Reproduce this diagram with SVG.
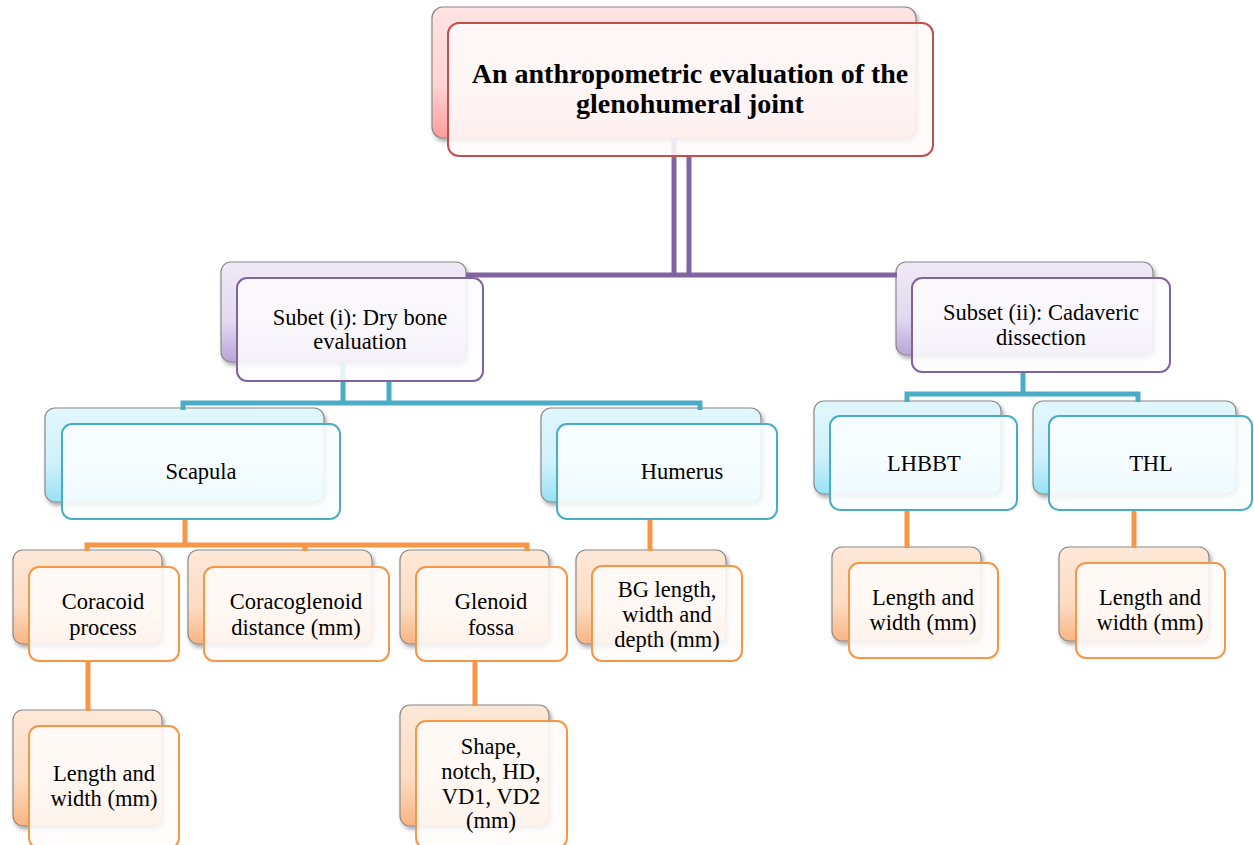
<svg xmlns="http://www.w3.org/2000/svg" width="1254" height="845" viewBox="0 0 1254 845">
<defs>
<linearGradient id="gRed" x1="0" y1="0" x2="0" y2="1"><stop offset="0" stop-color="#ffe3e3"/><stop offset="0.6" stop-color="#ffd3d3"/><stop offset="1" stop-color="#ff9c9c"/></linearGradient>
<linearGradient id="gPur" x1="0" y1="0" x2="0" y2="1"><stop offset="0" stop-color="#efeaf7"/><stop offset="0.6" stop-color="#e2d9f0"/><stop offset="1" stop-color="#b9a4d9"/></linearGradient>
<linearGradient id="gBlu" x1="0" y1="0" x2="0" y2="1"><stop offset="0" stop-color="#e2f7fd"/><stop offset="0.6" stop-color="#cff1fb"/><stop offset="1" stop-color="#97e1f6"/></linearGradient>
<linearGradient id="gOra" x1="0" y1="0" x2="0" y2="1"><stop offset="0" stop-color="#fde8d8"/><stop offset="0.6" stop-color="#fcdcc3"/><stop offset="1" stop-color="#f9b483"/></linearGradient>
<filter id="sh" x="-10%" y="-10%" width="125%" height="130%"><feDropShadow dx="2" dy="3" stdDeviation="2" flood-color="#000" flood-opacity="0.35"/></filter>
</defs>
<style>
.back{stroke:#8a8a8a;stroke-width:1.2;filter:url(#sh)}
.front{stroke-width:2;fill:#ffffff;fill-opacity:0.88}
.r .back{fill:url(#gRed)} .r .front{stroke:#c0504d;fill:#fffafa}
.p .back{fill:url(#gPur)} .p .front{stroke:#8064a2;fill:#fdfcfe}
.b .back{fill:url(#gBlu)} .b .front{stroke:#4bacc6;fill:#fbfeff}
.o .back{fill:url(#gOra)} .o .front{stroke:#f79646;fill:#fffcfa}
text{font-family:"Liberation Serif","Times New Roman",serif;font-size:22.5px;fill:#000;text-anchor:middle}
.title{font-size:28px;font-weight:bold}
.cn{fill:none;stroke-width:5;stroke-linejoin:miter}
.cp{stroke:#8064a2}.cb{stroke:#4bacc6}.co{stroke:#f79646}
</style>

<g id="back-layer">
<g class="r"><rect class="back" x="432" y="7" width="484" height="131" rx="11"/></g>
<g class="p"><rect class="back" x="221" y="262" width="245" height="100" rx="10"/><rect class="back" x="896" y="262" width="257" height="93" rx="10"/></g>
<g class="b"><rect class="back" x="45" y="408" width="279" height="94" rx="10"/><rect class="back" x="541" y="408" width="220" height="94" rx="10"/><rect class="back" x="814" y="401" width="187" height="93" rx="10"/><rect class="back" x="1033" y="401" width="203" height="93" rx="10"/></g>
<g class="o"><rect class="back" x="13" y="550" width="149" height="94" rx="10"/><rect class="back" x="188" y="550" width="184" height="94" rx="10"/><rect class="back" x="400" y="550" width="149" height="94" rx="10"/><rect class="back" x="576" y="550" width="150" height="94" rx="10"/><rect class="back" x="13" y="710" width="149" height="116" rx="10"/><rect class="back" x="400" y="705" width="149" height="121" rx="10"/><rect class="back" x="832" y="547" width="149" height="94" rx="10"/><rect class="back" x="1059" y="547" width="150" height="94" rx="10"/></g>
</g>

<g id="connectors">
<path class="cn cp" d="M674 138 V275 M689 156 V275 M466 275 H897"/>
<path class="cn cb" d="M343 362 V403 M389 381 V403 M183 410 V403 H700 V410"/>
<path class="cn cb" d="M1023 372 V394 M907 402 V394 H1138 V402"/>
<path class="cn co" d="M185 519 V545 M87 551 V545 H527 V551 M305 545 V551"/>
<path class="cn co" d="M650 519 V551"/>
<path class="cn co" d="M88 661 V711"/>
<path class="cn co" d="M475 661 V706"/>
<path class="cn co" d="M907 510 V548"/>
<path class="cn co" d="M1134 510 V548"/>
</g>

<g id="n-root" class="r"><rect class="front" x="448" y="23" width="485" height="133" rx="11"/>
<text class="title" x="690" y="83">An anthropometric evaluation of the</text><text class="title" x="690" y="113">glenohumeral joint</text></g>

<g id="n-subset1" class="p"><rect class="front" x="237" y="278" width="246" height="103" rx="10"/>
<text x="360" y="325">Subet (i): Dry bone</text><text x="360" y="349">evaluation</text></g>

<g id="n-subset2" class="p"><rect class="front" x="912" y="278" width="258" height="94" rx="10"/>
<text x="1041" y="320">Subset (ii): Cadaveric</text><text x="1041" y="345">dissection</text></g>

<g id="n-scapula" class="b"><rect class="front" x="62" y="424" width="278" height="95" rx="10"/>
<text x="201" y="479">Scapula</text></g>

<g id="n-humerus" class="b"><rect class="front" x="557" y="424" width="220" height="95" rx="10"/>
<text x="682" y="479">Humerus</text></g>

<g id="n-lhbbt" class="b"><rect class="front" x="830" y="416" width="187" height="94" rx="10"/>
<text x="924" y="471">LHBBT</text></g>

<g id="n-thl" class="b"><rect class="front" x="1049" y="416" width="203" height="94" rx="10"/>
<text x="1151" y="471">THL</text></g>

<g id="n-coracoid" class="o"><rect class="front" x="29" y="567" width="150" height="94" rx="10"/>
<text x="103" y="609">Coracoid</text><text x="103" y="635">process</text></g>

<g id="n-coracoglenoid" class="o"><rect class="front" x="204" y="567" width="185" height="94" rx="10"/>
<text x="296" y="609">Coracoglenoid</text><text x="296" y="635">distance (mm)</text></g>

<g id="n-glenoid" class="o"><rect class="front" x="416" y="567" width="151" height="94" rx="10"/>
<text x="491" y="609">Glenoid</text><text x="491" y="635">fossa</text></g>

<g id="n-bg" class="o"><rect class="front" x="592" y="566" width="150" height="95" rx="10"/>
<text x="667" y="597">BG length,</text><text x="667" y="622">width and</text><text x="667" y="647">depth (mm)</text></g>

<g id="n-coracoid-len" class="o"><rect class="front" x="29" y="726" width="150" height="122" rx="10"/>
<text x="104" y="781">Length and</text><text x="104" y="806">width (mm)</text></g>

<g id="n-shape" class="o"><rect class="front" x="416" y="721" width="151" height="127" rx="10"/>
<text x="491" y="754">Shape,</text><text x="491" y="779">notch, HD,</text><text x="491" y="804">VD1, VD2</text><text x="491" y="828">(mm)</text></g>

<g id="n-lhbbt-len" class="o"><rect class="front" x="849" y="563" width="149" height="95" rx="10"/>
<text x="923" y="605">Length and</text><text x="923" y="630">width (mm)</text></g>

<g id="n-thl-len" class="o"><rect class="front" x="1076" y="563" width="149" height="95" rx="10"/>
<text x="1150" y="605">Length and</text><text x="1150" y="630">width (mm)</text></g>
</svg>
